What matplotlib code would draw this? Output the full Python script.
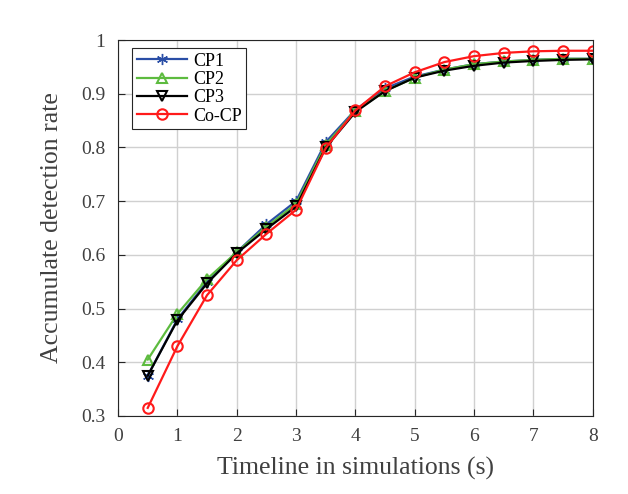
import matplotlib
matplotlib.use('Agg')
from matplotlib import pyplot as plt

t = [0.5, 1, 1.5, 2, 2.5, 3, 3.5, 4, 4.5, 5, 5.5, 6, 6.5, 7, 7.5, 8]
cp1 = [0.375, 0.480, 0.550, 0.605, 0.657, 0.700, 0.810, 0.870, 0.910, 0.932,
       0.945, 0.955, 0.960, 0.963, 0.965, 0.965]
cp2 = [0.405, 0.490, 0.555, 0.605, 0.652, 0.695, 0.805, 0.868, 0.905, 0.930,
       0.945, 0.955, 0.960, 0.963, 0.965, 0.965]
cp3 = [0.375, 0.478, 0.547, 0.603, 0.648, 0.690, 0.800, 0.866, 0.905, 0.930,
       0.943, 0.952, 0.958, 0.961, 0.963, 0.964]
cocp = [0.315, 0.430, 0.525, 0.590, 0.639, 0.684, 0.799, 0.869, 0.914, 0.940,
        0.959, 0.970, 0.976, 0.979, 0.980, 0.980]


def main():
    plt.rcParams['font.family'] = ['Liberation Serif']
    fig = plt.figure(figsize=(6.28, 4.94), dpi=100)
    ax = fig.add_axes([0.188, 0.158, 0.756, 0.761])

    ax.plot(t, cp1, color='#2a4ea6', marker=(6, 2, 0), markersize=8, lw=1.6,
            label='CP1')
    ax.plot(t, cp2, color='#5dbb3f', marker='^', markersize=7.5, lw=1.6,
            markerfacecolor='none', markeredgewidth=1.5, label='CP2')
    ax.plot(t, cp3, color='black', marker='v', markersize=7.5, lw=1.6,
            markerfacecolor='none', markeredgewidth=1.5, label='CP3')
    ax.plot(t, cocp, color='#ff1a1a', marker='o', markersize=7.5, lw=1.6,
            markerfacecolor='none', markeredgewidth=1.5, label='Co-CP')

    ax.set_xlim(0, 8)
    ax.set_ylim(0.3, 1)
    ax.set_xticks(range(0, 9))
    ax.set_yticks([0.3, 0.4, 0.5, 0.6, 0.7, 0.8, 0.9, 1])
    ax.set_yticklabels(['0.3', '0.4', '0.5', '0.6', '0.7', '0.8', '0.9', '1'])
    ax.grid(True, color='#d0d0d0', lw=1)
    ax.set_axisbelow(True)
    ax.tick_params(direction='in', labelsize=14, labelcolor='#404040',
                   color='#262626', length=5, pad=9)
    for s in ax.spines.values():
        s.set_color('#262626')
        s.set_linewidth(0.8)

    ax.set_xlabel('Timeline in simulations (s)', fontsize=18.5,
                  color='#404040', labelpad=8)
    ax.set_ylabel('Accumulate detection rate', fontsize=18.5,
                  color='#404040', labelpad=13)

    leg = ax.legend(loc='upper left', bbox_to_anchor=(0.03, 0.978),
                    fontsize=13, fancybox=False, framealpha=1,
                    edgecolor='#262626', handlelength=2.8, handletextpad=0.3,
                    borderpad=0.25, borderaxespad=0, labelspacing=0.07)
    leg.get_frame().set_linewidth(0.8)

    plt.savefig('out.png')


if __name__ == "__main__":
    main()
